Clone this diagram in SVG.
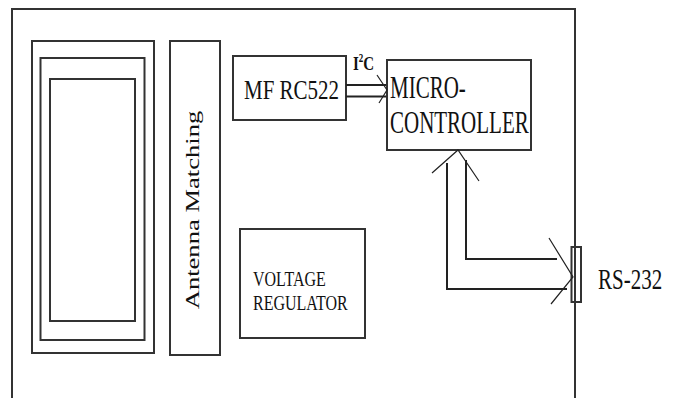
<svg xmlns="http://www.w3.org/2000/svg" width="678" height="398" viewBox="0 0 678 398">
<style>
.box{fill:none;stroke:#333;stroke-width:2}
.ln{fill:none;stroke:#222;stroke-width:2}
.thin{fill:none;stroke:#222;stroke-width:1.2}
.t{font-family:"Liberation Serif","Times New Roman",serif;fill:#111}
</style>
<rect width="678" height="398" fill="#fff"/>
<g id="frame"><path class="box" d="M12,398 V9 H575 V398"/></g>
<g id="antenna">
<rect class="box" x="32" y="41" width="122" height="312"/>
<rect class="box" x="40.5" y="58" width="104" height="282"/>
<rect class="box" x="50" y="79" width="85" height="242"/>
</g>
<g id="antenna-matching">
<rect class="box" x="170" y="41" width="50" height="314"/>
<text class="t" font-size="19" text-anchor="middle" transform="translate(199,210) rotate(-90) scale(1.4,1)">Antenna Matching</text>
</g>
<g id="mfrc522">
<rect class="box" x="233" y="56" width="113" height="64"/>
<text class="t" font-size="21" transform="translate(244,99) scale(1,1.35)">MF RC522</text>
</g>
<g id="microcontroller">
<rect class="box" x="387" y="60" width="144" height="90"/>
<text class="t" font-size="21" transform="translate(390,98) scale(1,1.5)"><tspan x="0" y="0">MICRO-</tspan><tspan x="0" dy="23.3">CONTROLLER</tspan></text>
</g>
<g id="voltage-regulator">
<rect class="box" x="240" y="229" width="125" height="109"/>
<text class="t" font-size="16" transform="translate(253,285.5) scale(1,1.35)">VOLTAGE</text>
<text class="t" font-size="16" transform="translate(253,310) scale(1,1.35)">REGULATOR</text>
</g>
<g id="rs232">
<rect class="box" x="571.5" y="247" width="9.5" height="55"/>
<text class="t" font-size="21" transform="translate(598,289) scale(1,1.45)">RS-232</text>
</g>
<g id="connectors">
<line class="ln" x1="346" y1="85" x2="386" y2="85"/>
<line class="ln" x1="346" y1="96.5" x2="386" y2="96.5"/>
<polyline class="thin" points="377,75 387,90 379,103"/>
<text class="t" font-size="15" font-weight="bold" transform="translate(353,70) scale(1,1.3)">I<tspan font-size="9" dy="-6">2</tspan><tspan dy="6">C</tspan></text>
<polyline class="ln" points="447,163 447,289 567,289"/>
<polyline class="ln" points="466,160 466,259 557,259"/>
<polyline class="thin" points="432,173 458,150 479,181"/>
<polyline class="thin" points="549,238 573,277 551,304"/>
</g>
</svg>
